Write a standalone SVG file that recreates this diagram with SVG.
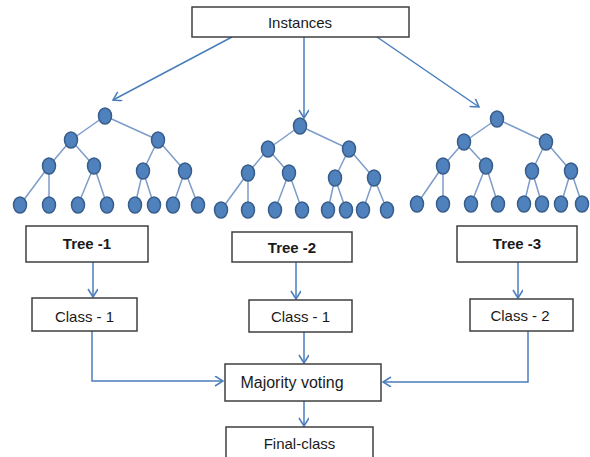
<svg xmlns="http://www.w3.org/2000/svg" width="590" height="457" viewBox="0 0 590 457">
<style>
.box{fill:#fff;stroke:#3f3f3f;stroke-width:1.5}
.t{font-family:"Liberation Sans",Arial,sans-serif;font-size:15px;fill:#1a1a1a;text-anchor:middle}
.b{font-weight:bold}
.e{stroke:#7d9cca;stroke-width:1.5;fill:none}
.n{fill:#4f81bd;stroke:#385d8a;stroke-width:1.5}
.c{stroke:#4a7ebb;stroke-width:1.5;fill:none;marker-end:url(#ah)}
</style>
<defs>
<marker id="ah" markerWidth="12" markerHeight="12" refX="9" refY="5" orient="auto" markerUnits="userSpaceOnUse">
<path d="M1,0 L9,5 L1,10" fill="none" stroke="#4a7ebb" stroke-width="1.5"/>
</marker>
</defs>
<rect width="590" height="457" fill="#fff"/>

<g id="connectors">
<path class="c" d="M232,37 L113,100"/>
<path class="c" d="M304,37 L304,118"/>
<path class="c" d="M377,37 L479,107"/>
<path class="c" d="M93,262 L93,297"/>
<path class="c" d="M296,262 L296,299"/>
<path class="c" d="M518,262 L518,298"/>
<path class="c" d="M92,331 L92,381 L223,381"/>
<path class="c" d="M304,332 L304,363"/>
<path class="c" d="M528,331 L528,382 L383,382"/>
<path class="c" d="M304,401 L304,426"/>
</g>

<g id="tree1">
<g class="e">
<path d="M105,116 L71,140 M105,116 L158,140 M71,140 L49,166 M71,140 L94,166 M158,140 L143,171 M158,140 L185,171 M49,166 L20,205 M49,166 L49,205 M94,166 L78,205 M94,166 L107,205 M143,171 L135,205 M143,171 L154,205 M185,171 L173,205 M185,171 L198,205"/>
</g>
<ellipse class="n" cx="105" cy="116" rx="6.5" ry="8"/>
<ellipse class="n" cx="71" cy="140" rx="6.5" ry="8"/>
<ellipse class="n" cx="158" cy="140" rx="6.5" ry="8"/>
<ellipse class="n" cx="49" cy="166" rx="6.5" ry="8"/>
<ellipse class="n" cx="94" cy="166" rx="6.5" ry="8"/>
<ellipse class="n" cx="143" cy="171" rx="6.5" ry="8"/>
<ellipse class="n" cx="185" cy="171" rx="6.5" ry="8"/>
<ellipse class="n" cx="20" cy="205" rx="6.5" ry="8"/>
<ellipse class="n" cx="49" cy="205" rx="6.5" ry="8"/>
<ellipse class="n" cx="78" cy="205" rx="6.5" ry="8"/>
<ellipse class="n" cx="107" cy="205" rx="6.5" ry="8"/>
<ellipse class="n" cx="135" cy="205" rx="6.5" ry="8"/>
<ellipse class="n" cx="154" cy="205" rx="6.5" ry="8"/>
<ellipse class="n" cx="173" cy="205" rx="6.5" ry="8"/>
<ellipse class="n" cx="198" cy="205" rx="6.5" ry="8"/>
</g>

<g id="tree2">
<g class="e">
<path d="M300,126 L268,149 M300,126 L349,149 M268,149 L248,173 M268,149 L289,173 M349,149 L335,178 M349,149 L374,178 M248,173 L221,210 M248,173 L248,210 M289,173 L275,210 M289,173 L302,210 M335,178 L328,210 M335,178 L346,210 M374,178 L363,210 M374,178 L387,210"/>
</g>
<ellipse class="n" cx="300" cy="126" rx="6.5" ry="8"/>
<ellipse class="n" cx="268" cy="149" rx="6.5" ry="8"/>
<ellipse class="n" cx="349" cy="149" rx="6.5" ry="8"/>
<ellipse class="n" cx="248" cy="173" rx="6.5" ry="8"/>
<ellipse class="n" cx="289" cy="173" rx="6.5" ry="8"/>
<ellipse class="n" cx="335" cy="178" rx="6.5" ry="8"/>
<ellipse class="n" cx="374" cy="178" rx="6.5" ry="8"/>
<ellipse class="n" cx="221" cy="210" rx="6.5" ry="8"/>
<ellipse class="n" cx="248" cy="210" rx="6.5" ry="8"/>
<ellipse class="n" cx="275" cy="210" rx="6.5" ry="8"/>
<ellipse class="n" cx="302" cy="210" rx="6.5" ry="8"/>
<ellipse class="n" cx="328" cy="210" rx="6.5" ry="8"/>
<ellipse class="n" cx="346" cy="210" rx="6.5" ry="8"/>
<ellipse class="n" cx="363" cy="210" rx="6.5" ry="8"/>
<ellipse class="n" cx="387" cy="210" rx="6.5" ry="8"/>
</g>

<g id="tree3">
<g class="e">
<path d="M497,119 L464,142 M497,119 L546,142 M464,142 L443,166 M464,142 L486,166 M546,142 L532,171 M546,142 L571,171 M443,166 L417,204 M443,166 L443,204 M486,166 L471,204 M486,166 L498,204 M532,171 L524,204 M532,171 L542,204 M571,171 L561,204 M571,171 L582,204"/>
</g>
<ellipse class="n" cx="497" cy="119" rx="6.5" ry="8"/>
<ellipse class="n" cx="464" cy="142" rx="6.5" ry="8"/>
<ellipse class="n" cx="546" cy="142" rx="6.5" ry="8"/>
<ellipse class="n" cx="443" cy="166" rx="6.5" ry="8"/>
<ellipse class="n" cx="486" cy="166" rx="6.5" ry="8"/>
<ellipse class="n" cx="532" cy="171" rx="6.5" ry="8"/>
<ellipse class="n" cx="571" cy="171" rx="6.5" ry="8"/>
<ellipse class="n" cx="417" cy="204" rx="6.5" ry="8"/>
<ellipse class="n" cx="443" cy="204" rx="6.5" ry="8"/>
<ellipse class="n" cx="471" cy="204" rx="6.5" ry="8"/>
<ellipse class="n" cx="498" cy="204" rx="6.5" ry="8"/>
<ellipse class="n" cx="524" cy="204" rx="6.5" ry="8"/>
<ellipse class="n" cx="542" cy="204" rx="6.5" ry="8"/>
<ellipse class="n" cx="561" cy="204" rx="6.5" ry="8"/>
<ellipse class="n" cx="582" cy="204" rx="6.5" ry="8"/>
</g>

<g id="instances">
<rect class="box" x="192" y="7" width="217" height="30"/>
<text class="t" x="300" y="28">Instances</text>
</g>
<g id="treebox1">
<rect class="box" x="26" y="226" width="122" height="36"/>
<text class="t b" x="87" y="249">Tree -1</text>
</g>
<g id="treebox2">
<rect class="box" x="232" y="232" width="120" height="30"/>
<text class="t b" x="292" y="253">Tree -2</text>
</g>
<g id="treebox3">
<rect class="box" x="457" y="226" width="120" height="36"/>
<text class="t b" x="517" y="249">Tree -3</text>
</g>
<g id="class1a">
<rect class="box" x="32" y="298" width="105" height="33"/>
<text class="t" x="84.5" y="322">Class - 1</text>
</g>
<g id="class1b">
<rect class="box" x="249" y="300" width="103" height="32"/>
<text class="t" x="300.5" y="322">Class - 1</text>
</g>
<g id="class2">
<rect class="box" x="470" y="299" width="103" height="32"/>
<text class="t" x="520" y="321">Class - 2</text>
</g>
<g id="majority">
<rect class="box" x="225" y="364" width="156" height="37"/>
<text class="t" x="292" y="388" style="font-size:16px">Majority voting</text>
</g>
<g id="final">
<rect class="box" x="226" y="427" width="147" height="32"/>
<text class="t" x="299.5" y="449">Final-class</text>
</g>
</svg>
